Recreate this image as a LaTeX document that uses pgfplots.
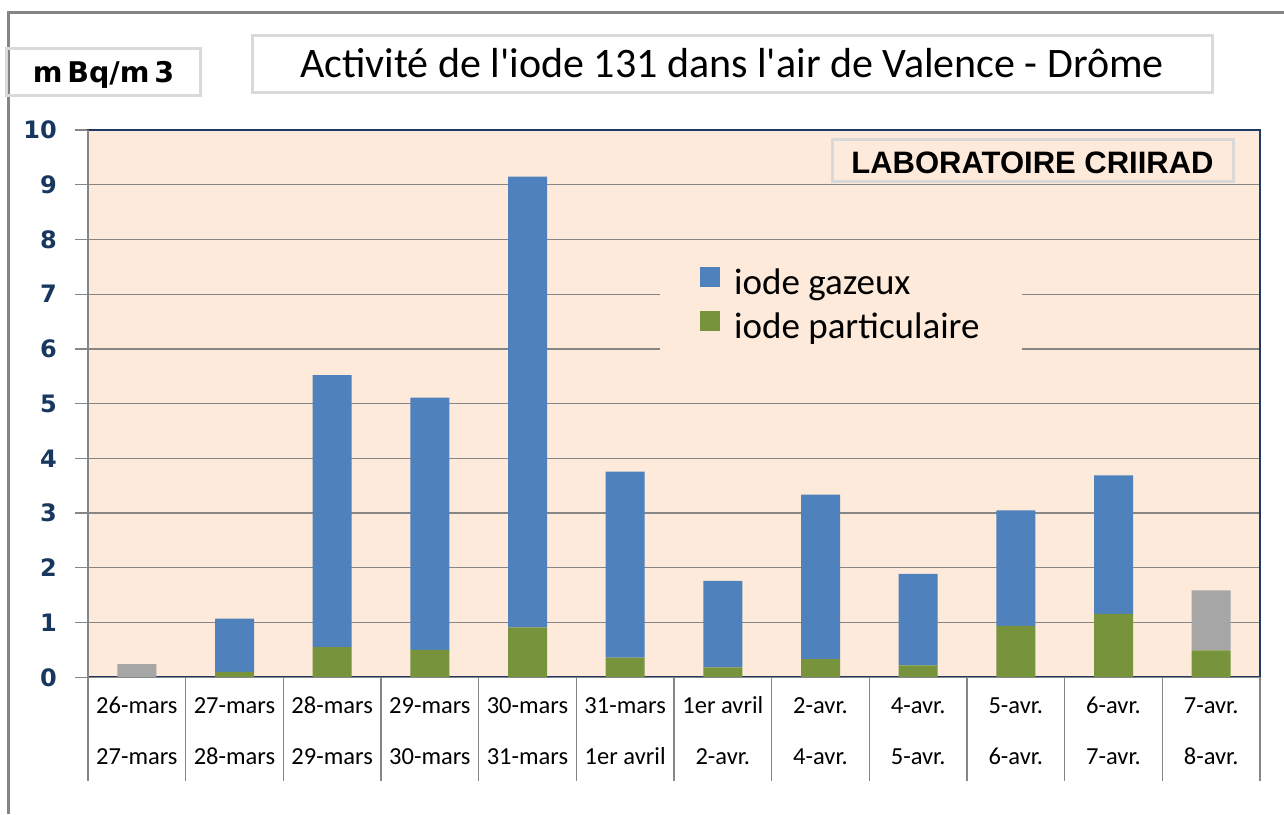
\documentclass[border=0pt]{standalone}
\usepackage{fontspec}
\setmainfont{Carlito}[Ligatures=TeXOff]
\newfontfamily\dejavu{DejaVu Sans}
\newfontfamily\libsans{Liberation Sans}
\usepackage{pgfplots}
\pgfplotsset{compat=1.18}
\definecolor{peach}{HTML}{FDEADA}
\definecolor{barblue}{HTML}{4F81BD}
\definecolor{bargreen}{HTML}{77933C}
\definecolor{bargray}{HTML}{A6A6A6}
\definecolor{gridgray}{HTML}{868686}
\definecolor{navyline}{HTML}{1F3864}
\definecolor{labnavy}{HTML}{17375E}
\definecolor{boxgray}{HTML}{D9D9D9}
\definecolor{framegray}{HTML}{858585}
\newcommand{\xl}[2]{\rule{0pt}{18pt}#1\\#2}
\begin{document}
\begin{tikzpicture}
\useasboundingbox (0pt,0pt) rectangle (1284pt,814pt);
\draw[framegray, line width=3pt] (1284pt,801pt) -- (8pt,801pt) -- (8pt,0pt);
% title box
\draw[boxgray, line width=3pt] (252pt,721pt) rectangle (1212pt,778pt);
\node[anchor=base, inner sep=0pt, font=\fontsize{42}{50}\selectfont] at (732pt,736pt) {Activité de l'iode 131 dans l'air de Valence - Drôme};
% unit box
\draw[boxgray, line width=3pt] (6pt,718pt) rectangle (200pt,765pt);
\node[anchor=base, inner sep=0pt, font=\dejavu\bfseries\fontsize{28.5}{34}\selectfont] at (103.5pt,731pt) {m\,Bq/m\,3};
\begin{axis}[
  at={(88pt,136.7pt)}, anchor=south west, scale only axis,
  width=1172pt, height=547.3pt,
  ymin=0, ymax=10, xmin=-0.5, xmax=11.5,
  ybar stacked, bar width=39pt,
  axis background/.style={fill=peach},
  ytick={0,1,...,10}, ymajorgrids,
  grid style={gridgray, line width=1.3pt},
  xtick={0,1,...,11},
  xticklabels={{\xl{26-mars}{27-mars}},{\xl{27-mars}{28-mars}},{\xl{28-mars}{29-mars}},{\xl{29-mars}{30-mars}},{\xl{30-mars}{31-mars}},{\xl{31-mars}{1er avril}},{\xl{1er avril}{2-avr.}},{\xl{2-avr.}{4-avr.}},{\xl{4-avr.}{5-avr.}},{\xl{5-avr.}{6-avr.}},{\xl{6-avr.}{7-avr.}},{\xl{7-avr.}{8-avr.}}},
  xticklabel style={align=center, font=\fontsize{24.5}{51}\selectfont, anchor=north, inner sep=0pt, yshift=-5pt},
  tick align=outside, major tick length=13pt,
  xtick style={draw=none}, ytick style={gridgray, line width=1.3pt},
  ytick pos=left, xtick pos=bottom,
  axis line style={navyline, line width=2pt},
  /pgf/number format/assume math mode=true,
  yticklabel style={font=\dejavu\bfseries\fontsize{24}{29}\selectfont, text=labnavy, anchor=east, inner sep=0pt, xshift=-18pt},
  clip=false,
  reverse legend,
  legend cell align=left,
  legend image code/.code={\fill[#1] (0pt,-5pt) rectangle (20pt,15pt); \path (32pt,-5pt);},
  legend style={at={(0.488,0.78)}, anchor=north west, fill=peach, draw=none,
    font=\fontsize{37}{44}\selectfont, inner xsep=40pt, inner ysep=16pt, row sep=13pt},
]
\addplot[fill=bargreen, draw=none] coordinates {(0,0) (1,0.10) (2,0.55) (3,0.50) (4,0.91) (5,0.36) (6,0.18) (7,0.33) (8,0.22) (9,0.94) (10,1.16) (11,0.49)};
\addlegendentry{iode particulaire}
\addplot[fill=barblue, draw=none] coordinates {(0,0) (1,0.97) (2,4.97) (3,4.61) (4,8.24) (5,3.40) (6,1.58) (7,3.01) (8,1.67) (9,2.11) (10,2.53) (11,0)};
\addlegendentry{iode gazeux}
\addplot[fill=bargray, draw=none, forget plot] coordinates {(0,0.24) (1,0) (2,0) (3,0) (4,0) (5,0) (6,0) (7,0) (8,0) (9,0) (10,0) (11,1.10)};
\pgfplotsinvokeforeach{-0.5,0.5,1.5,2.5,3.5,4.5,5.5,6.5,7.5,8.5,9.5,10.5,11.5}{
  \draw[gridgray, line width=1.5pt] (axis cs:#1,0) -- ++(0pt,-104pt);
}
\end{axis}
\draw[gridgray, line width=1.5pt] (88pt,684pt) -- (88pt,136.7pt) -- (1260pt,136.7pt);
% laboratory box
\draw[boxgray, line width=3pt, fill=peach] (832pt,632pt) rectangle (1233pt,674pt);
\node[anchor=base, inner sep=0pt, font=\libsans\bfseries\fontsize{31}{36}\selectfont] at (1032.5pt,640pt) {LABORATOIRE CRIIRAD};
\end{tikzpicture}
\end{document}
